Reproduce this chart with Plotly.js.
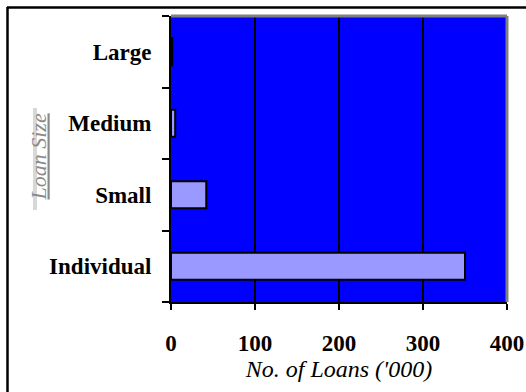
<!DOCTYPE html>
<html>
<head>
<meta charset="utf-8">
<script src="https://cdn.plot.ly/plotly-3.0.1.min.js"></script>
<style>
  html, body { margin: 0; padding: 0; background: #fff; }
  #chart { width: 526px; height: 392px; }
</style>
</head>
<body>
<div id="chart"></div>
<script>
// Loan counts by loan size, in thousands
const loanSizes = ['Individual', 'Small', 'Medium', 'Large'];
const loanCounts = [350, 42, 5, 1.5];
const xTickValues = [0, 100, 200, 300, 400];

const W = 526, H = 392;
const M = { l: 171, r: 19, t: 16, b: 90 };
const plotW = W - M.l - M.r, plotH = H - M.t - M.b;
// pixel -> paper coordinate helpers for the outer frame and decorations
const px = x => (x - M.l) / plotW;
const py = y => (H - M.b - y) / plotH;

const serif = 'Liberation Serif, Times New Roman, serif';

const trace = {
  type: 'bar',
  orientation: 'h',
  y: loanSizes,
  x: loanCounts,
  marker: { color: '#9999FF', line: { color: '#000000', width: 2 } },
  hoverinfo: 'none'
};

const layout = {
  width: W, height: H,
  margin: M,
  paper_bgcolor: '#ffffff',
  plot_bgcolor: '#0000FF',
  showlegend: false,
  bargap: 0.62,
  font: { family: serif, color: '#000' },
  xaxis: {
    range: [0, 400],
    tickvals: xTickValues,
    ticktext: xTickValues.map(String),
    showgrid: true, gridcolor: '#000000', gridwidth: 2,
    zeroline: false,
    showline: true, linecolor: '#000000', linewidth: 2,
    ticks: 'outside', ticklen: 6, tickwidth: 2, tickcolor: '#000',
    tickfont: { family: serif, size: 23, weight: 'bold', color: '#000' },
    ticklabelstandoff: 13,
    title: {
      text: "No. of Loans ('000)",
      font: { family: serif, size: 24, style: 'italic', color: '#000' },
      standoff: 2
    },
    fixedrange: true
  },
  yaxis: {
    type: 'category',
    categoryorder: 'array', categoryarray: loanSizes,
    range: [-0.5, 3.5],
    showgrid: false, zeroline: false,
    showline: true, linecolor: '#000000', linewidth: 2,
    ticks: 'outside', ticklen: 7, tickwidth: 2, tickcolor: '#000',
    tickson: 'boundaries',
    tickfont: { family: serif, size: 23, weight: 'bold', color: '#000' },
    ticklabelstandoff: 13,
    fixedrange: true
  },
  shapes: [
    // grey top and right edges of the plot area
    { type: 'line', xref: 'paper', yref: 'paper', x0: 0, x1: 1, y0: 1, y1: 1,
      line: { color: '#808080', width: 3 } },
    { type: 'line', xref: 'paper', yref: 'paper', x0: 1, x1: 1, y0: 0, y1: 1,
      line: { color: '#808080', width: 3 } },
    // outer frame (left and top edges)
    { type: 'line', xref: 'paper', yref: 'paper', x0: px(7.5), x1: px(7.5), y0: py(7), y1: py(395),
      line: { color: '#000000', width: 2.5 } },
    { type: 'line', xref: 'paper', yref: 'paper', x0: px(7), x1: px(530), y0: py(7.5), y1: py(7.5),
      line: { color: '#000000', width: 2.5 } },
    // light strip beside the axis title
    { type: 'rect', xref: 'paper', yref: 'paper', x0: px(33), x1: px(37), y0: py(210), y1: py(108),
      fillcolor: '#d8d8d8', line: { width: 0 }, layer: 'below' }
  ],
  annotations: [
    { text: '<u>Loan Size</u>', xref: 'paper', yref: 'paper',
      x: px(23), y: py(157), textangle: -90, showarrow: false,
      font: { family: serif, size: 22, style: 'italic', color: '#8a8a8a' } }
  ]
};

Plotly.newPlot('chart', [trace], layout, { displayModeBar: false, staticPlot: true });
</script>
</body>
</html>
